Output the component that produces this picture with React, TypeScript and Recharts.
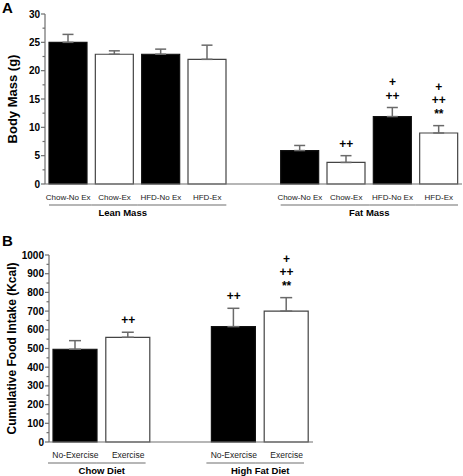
import { BarChart, Bar, XAxis, YAxis, ErrorBar, Cell, ReferenceDot } from 'recharts';

// Panel A: body composition
const massIds = ['lean-chow-noex', 'lean-chow-ex', 'lean-hfd-noex', 'lean-hfd-ex', 'gap', 'fat-chow-noex', 'fat-chow-ex', 'fat-hfd-noex', 'fat-hfd-ex'];
const massLabels = ['Chow-No Ex', 'Chow-Ex', 'HFD-No Ex', 'HFD-Ex', '', 'Chow-No Ex', 'Chow-Ex', 'HFD-No Ex', 'HFD-Ex'];
const massGroups = ['Lean Mass', 'Lean Mass', 'Lean Mass', 'Lean Mass', '', 'Fat Mass', 'Fat Mass', 'Fat Mass', 'Fat Mass'];
const massValues = [25, 22.9, 22.9, 22, null, 5.9, 3.8, 11.9, 9];
const massErrors = [1.4, 0.6, 0.9, 2.5, null, 0.9, 1.2, 1.6, 1.3];
const massExercise = [false, true, false, true, false, false, true, false, true];
const massMarks = [[], [], [], [], [], [], ['++'], ['++', '+'], ['**', '++', '+']];
const massTicks = [0, 2.5, 5, 7.5, 10, 12.5, 15, 17.5, 20, 22.5, 25, 27.5, 30];

// Panel B: cumulative food intake
const foodIds = ['chow-noex', 'chow-ex', 'gap', 'hfd-noex', 'hfd-ex'];
const foodLabels = ['No-Exercise', 'Exercise', '', 'No-Exercise', 'Exercise'];
const foodGroups = ['Chow Diet', 'Chow Diet', '', 'High Fat Diet', 'High Fat Diet'];
const foodValues = [496, 560, null, 617, 700];
const foodErrors = [46, 27, null, 98, 72];
const foodExercise = [false, true, false, false, true];
const foodMarks = [[], ['++'], [], ['++'], ['**', '++', '+']];
const foodTicks = [0, 50, 100, 150, 200, 250, 300, 350, 400, 450, 500, 550, 600, 650, 700, 750, 800, 850, 900, 950, 1000];

const FONT = '"Liberation Sans", Arial, sans-serif';
const AXIS = '#6e6e6e';

const build = (ids: string[], values: (number | null)[], errors: (number | null)[], ex: boolean[]) =>
  ids.map((id, i) => ({
    id,
    value: values[i],
    err: errors[i] == null ? null : [0, errors[i]],
    ex: ex[i],
  }));

const massData = build(massIds, massValues, massErrors, massExercise);
const foodData = build(foodIds, foodValues, foodErrors, foodExercise);

const YTick = ({ x, y, payload, major }: any) => {
  const isMajor = Math.abs(payload.value % major) < 1e-6;
  const ax = x + 5;
  return (
    <g>
      <line x1={ax - (isMajor ? 4 : 2.5)} x2={ax} y1={y} y2={y} stroke={AXIS} strokeWidth={1.2} />
      {isMajor && (
        <text x={x} y={y} textAnchor="end" dominantBaseline="central" fontSize={10} fontWeight="bold" fontFamily={FONT} fill="#000">
          {payload.value}
        </text>
      )}
    </g>
  );
};

const CatTick = ({ x, y, payload, labels, groups, half, inset, tickFont, labelShift, lineShift }: any) => {
  const i = payload.index;
  const g = groups[i];
  const first = g && groups[i - 1] !== g;
  const last = g && groups[i + 1] !== g;
  const size = groups.filter((v: string) => v === g).length;
  return (
    <g>
      <text x={x} y={y + 16} textAnchor="middle" fontSize={tickFont} fontFamily={FONT} fill="#222">
        {labels[i]}
      </text>
      {g && (
        <line
          x1={x - half + (first ? inset : 0) + lineShift}
          x2={x + half - (last ? inset : 0) + lineShift}
          y1={y + 21}
          y2={y + 21}
          stroke={AXIS}
          strokeWidth={1.2}
        />
      )}
      {first && (
        <text x={x + (size - 1) * half + (labelShift[g] || 0)} y={y + 32} textAnchor="middle" fontSize={9.5} fontWeight="bold" fontFamily={FONT} fill="#000">
          {g}
        </text>
      )}
    </g>
  );
};

const AxisTitle = ({ viewBox, text, size }: any) => {
  const cx = 12;
  const cy = viewBox.y + viewBox.height / 2;
  return (
    <text x={cx} y={cy} transform={`rotate(-90 ${cx} ${cy})`} textAnchor="middle" dominantBaseline="central" fontSize={size} fontWeight="bold" fontFamily={FONT} fill="#000">
      {text}
    </text>
  );
};

const Marks = ({ viewBox, marks }: any) => {
  const cx = viewBox.x + viewBox.width / 2;
  const cy = viewBox.y + viewBox.height / 2;
  return (
    <g>
      {marks.map((m: string, i: number) => (
        <text key={i} x={cx} y={cy - 12 - i * 13.5} textAnchor="middle" dominantBaseline="central" fontSize={12} fontWeight="bold" fontFamily={FONT} fill="#000">
          {m}
        </text>
      ))}
    </g>
  );
};

const Panel = ({ data, labels, groups, marks, ticks, domain, major, width, height, margin, yWidth, xHeight, barSize, capWidth, title, titleSize, inset, tickFont, labelShift, lineShift }: any) => {
  const plotW = width - margin.left - margin.right - yWidth;
  const half = plotW / data.length / 2;
  return (
    <BarChart width={width} height={height} data={data} margin={margin} barSize={barSize}>
      <XAxis
        dataKey="id"
        interval={0}
        tickLine={false}
        tickSize={0}
        tickMargin={0}
        height={xHeight}
        axisLine={{ stroke: AXIS, strokeWidth: 1.2 }}
        tick={(p: any) => (
          <CatTick {...p} labels={labels} groups={groups} half={half} inset={inset} tickFont={tickFont} labelShift={labelShift} lineShift={lineShift} />
        )}
      />
      <YAxis
        width={yWidth}
        domain={domain}
        ticks={ticks}
        interval={0}
        tickLine={false}
        tickSize={4}
        tickMargin={1}
        axisLine={{ stroke: AXIS, strokeWidth: 1.2 }}
        tick={(p: any) => <YTick {...p} major={major} />}
        label={<AxisTitle text={title} size={titleSize} />}
      />
      <Bar dataKey="value" isAnimationActive={false}>
        {data.map((d: any) => (
          <Cell key={d.id} fill={d.ex ? '#fff' : '#000'} stroke={d.ex ? '#444' : '#111'} strokeWidth={1.2} />
        ))}
        <ErrorBar dataKey="err" direction="y" width={capWidth} stroke="#6a6a6a" strokeWidth={1.5} isAnimationActive={false} />
      </Bar>
      {data.map((d: any, i: number) =>
        marks[i].length ? (
          <ReferenceDot
            key={d.id}
            x={d.id}
            y={d.value + d.err[1]}
            r={1}
            fill="none"
            stroke="none"
            ifOverflow="visible"
            label={<Marks marks={marks[i]} />}
          />
        ) : null
      )}
    </BarChart>
  );
};

export default function App() {
  return (
    <div style={{ position: 'absolute', left: 0, top: 0, width: 463, height: 476, background: '#fff', fontFamily: FONT }}>
      <div style={{ position: 'absolute', left: 2, top: 0, fontSize: 15, fontWeight: 'bold', lineHeight: '15px' }}>A</div>
      <div style={{ position: 'absolute', left: 2, top: 233, fontSize: 15, fontWeight: 'bold', lineHeight: '15px' }}>B</div>
      <div style={{ position: 'absolute', left: 0, top: 0 }}>
        <Panel
          data={massData}
          labels={massLabels}
          groups={massGroups}
          marks={massMarks}
          ticks={massTicks}
          domain={[0, 30]}
          major={5}
          width={463}
          height={230}
          margin={{ top: 14, right: 1, left: 0, bottom: 0 }}
          yWidth={45}
          xHeight={46}
          barSize={38}
          capWidth={5.5}
          title="Body Mass (g)"
          titleSize={13}
          inset={4}
          tickFont={8}
          labelShift={{ 'Lean Mass': -15 }}
          lineShift={0}
        />
      </div>
      <div style={{ position: 'absolute', left: 0, top: 230 }}>
        <Panel
          data={foodData}
          labels={foodLabels}
          groups={foodGroups}
          marks={foodMarks}
          ticks={foodTicks}
          domain={[0, 1000]}
          major={100}
          width={463}
          height={246}
          margin={{ top: 25, right: 150, left: 0, bottom: 0 }}
          yWidth={49}
          xHeight={34}
          barSize={44}
          capWidth={6}
          title="Cumulative Food Intake (Kcal)"
          titleSize={12}
          inset={4}
          tickFont={8.5}
          labelShift={{}}
          lineShift={-5}
        />
      </div>
    </div>
  );
}
